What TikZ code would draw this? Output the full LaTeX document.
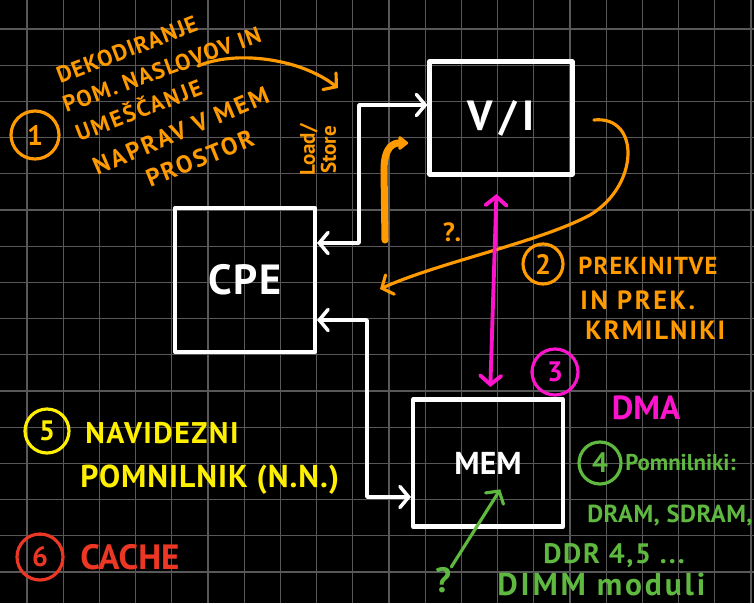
\documentclass[tikz,border=0pt]{standalone}
\usepackage{fontspec}
\setmainfont{PT Sans}
\usetikzlibrary{arrows.meta, positioning, calc}
\definecolor{myorange}{RGB}{255,155,0}
\definecolor{mymagenta}{RGB}{255,20,205}
\definecolor{myyellow}{RGB}{255,240,0}
\definecolor{myred}{RGB}{235,55,35}
\definecolor{mygreen}{RGB}{95,185,65}
\definecolor{mygrid}{RGB}{88,88,88}
\newcommand{\pxu}{0.02cm}
\newcommand{\fsz}[1]{\fontsize{#1}{#1}\selectfont}
\newcommand{\lsp}[1]{\addfontfeatures{LetterSpace=#1}}
\tikzset{
  box/.style={rectangle, draw=white, line width=2.3pt, text=white,
    font=\fsz{24}\bfseries, line join=round},
  note/.style={inner sep=0pt, font=\bfseries},
  numc/.style={circle, line width=1.8pt, inner sep=0pt, font=\fsz{16}\bfseries},
  barb/.tip={Straight Barb[length=5pt, width=12pt, line cap=round]},
  wline/.style={draw=white, line width=2pt, line cap=round, line join=round, barb-barb},
  oline/.style={draw=myorange, line width=1.8pt, line cap=round, -barb},
  othick/.style={draw=myorange, line width=4pt, line cap=round,
    -{Triangle[round, length=6pt, width=9pt]}},
  mline/.style={draw=mymagenta, line width=2.2pt, line cap=round, barb-barb},
  gline/.style={draw=mygreen, line width=1.8pt, line cap=round, -barb},
  gridline/.style={draw=mygrid, line width=0.6pt}
}

\begin{document}
\begin{tikzpicture}[x=\pxu, y=-\pxu]
  % board
  \fill[black] (0,0) rectangle (754,603);
  \useasboundingbox (0,0) rectangle (754,603);
  \foreach \i in {0,...,20}
    \draw[gridline] ({27+36.2*\i},0) -- ({27+36.2*\i},603);
  \foreach \j in {0,...,15}
    \draw[gridline] (0,{29+36.2*\j}) -- (754,{29+36.2*\j});

  % Units
  \node[box, minimum width=140*\pxu, minimum height=144*\pxu, font=\fsz{24}\bfseries\lsp{5}] (cpe) at (245,280) {CPE};
  \node[box, minimum width=143*\pxu, minimum height=113*\pxu, font=\fsz{24}\bfseries\lsp{15}] (vi) at (501,118) {V/I};
  \node[box, minimum width=150*\pxu, minimum height=127*\pxu, font=\fsz{18}\bfseries] (mem) at (488,463) {MEM};

  % Buses
  \draw[wline] (cpe.east |- 0,243) -- ++(42,0) |- (vi.west |- 0,105);
  \draw[wline] (cpe.east |- 0,320) -- ++(50,0) |- (mem.west |- 0,497);
  \node[note, text=myorange, font=\fsz{12}\bfseries, rotate=90, align=center] (ls) at (318,150) {Load/\\Store};

  % 1: address decoding
  \node[numc, draw=myorange, text=myorange, minimum size=48*\pxu] (c1) at (35,135) {1};
  \node[note, text=myorange, font=\fsz{13}\bfseries\lsp{5}, rotate=21, anchor=base west] (n1a) at (60,84) {DEKODIRANJE};
  \node[note, text=myorange, font=\fsz{13}\bfseries\lsp{6}, rotate=20, anchor=base west] (n1b) at (66,113) {POM. NASLOVOV IN};
  \node[note, text=myorange, font=\fsz{13}\bfseries\lsp{9}, rotate=21, anchor=base west] (n1c) at (79,142) {UMEŠČANJE};
  \node[note, text=myorange, font=\fsz{14}\bfseries\lsp{10}, rotate=23, anchor=base west] (n1d) at (97,176) {NAPRAV V MEM};
  \node[note, text=myorange, font=\fsz{14}\bfseries\lsp{8}, rotate=22, anchor=base west] (n1e) at (150,188) {PROSTOR};
  \coordinate (n1) at (198,66);
  \coordinate (n1end) at (338,88);
  \draw[oline] (n1) .. controls (235,50) and (300,58) .. (n1end);

  % 2: interrupts
  \draw[othick, shorten >=11pt] (385,240) -- (384,170) .. controls (384,145) and (395,143) .. (vi.west |- 0,143);
  \node[note, text=myorange, font=\fsz{15}\bfseries] (q1) at (452,232) {?.};
  \coordinate (irq) at (380,289);
  \draw[oline] ([xshift=11pt]vi.east |- 0,120) .. controls (640,115) and (640,185) .. (590,215)
    .. controls (540,242) and (440,262) .. (irq);
  \node[numc, draw=myorange, text=myorange, minimum size=40*\pxu] (c2) at (543,264) {2};
  \node[note, text=myorange, font=\fsz{14}\bfseries\lsp{5}, anchor=west] (n2a) at (578,266) {PREKINITVE};
  \node[note, text=myorange, font=\fsz{15}\bfseries\lsp{10}, anchor=west] (n2b) at (580,300) {IN PREK.};
  \node[note, text=myorange, font=\fsz{15}\bfseries\lsp{8}, anchor=west] (n2c) at (585,330) {KRMILNIKI};

  % 3: DMA
  \draw[mline, shorten <=6pt, shorten >=10pt] (mem.north -| 490,0) -- (vi.south -| 497,0);
  \node[numc, draw=mymagenta, text=mymagenta, minimum size=46*\pxu] (c3) at (555,372) {3};
  \node[note, text=mymagenta, font=\fsz{19}\bfseries] (dma) at (646,408) {DMA};

  % 4: memories
  \node[numc, draw=mygreen, text=mygreen, minimum size=42*\pxu] (c4) at (600,463) {4};
  \node[note, text=mygreen, font=\fsz{13}\bfseries, anchor=west] (n4a) at (625,463) {Pomnilniki:};
  \node[note, text=mygreen, font=\fsz{14}\bfseries\lsp{2}, anchor=west] (n4b) at (587,516) {DRAM, SDRAM,};
  \node[note, text=mygreen, font=\fsz{16}\bfseries\lsp{6}, anchor=west] (n4c) at (543,556) {DDR 4,5 ...};
  \node[note, text=mygreen, font=\fsz{18}\bfseries\lsp{9}, anchor=base west] (n4d) at (497,595) {DIMM moduli};
  \node[note, text=mygreen, font=\fsz{20}\bfseries] (q2) at (443,580) {?};
  \draw[gline] (q2.north east) -- ([xshift=7pt, yshift=-15pt]mem.center);

  % 5: virtual memory
  \node[numc, draw=myyellow, text=myyellow, minimum size=44*\pxu] (c5) at (47,431) {5};
  \node[note, text=myyellow, font=\fsz{17}\bfseries\lsp{5}, anchor=west] (n5a) at (85,433) {NAVIDEZNI};
  \node[note, text=myyellow, font=\fsz{18}\bfseries\lsp{3}, anchor=west] (n5b) at (80,480) {POMNILNIK (N.N.)};

  % 6: cache
  \node[numc, draw=myred, text=myred, minimum size=46*\pxu] (c6) at (40,557) {6};
  \node[note, text=myred, font=\fsz{20}\bfseries, anchor=west] (n6) at (80,557) {CACHE};
\end{tikzpicture}
\end{document}
